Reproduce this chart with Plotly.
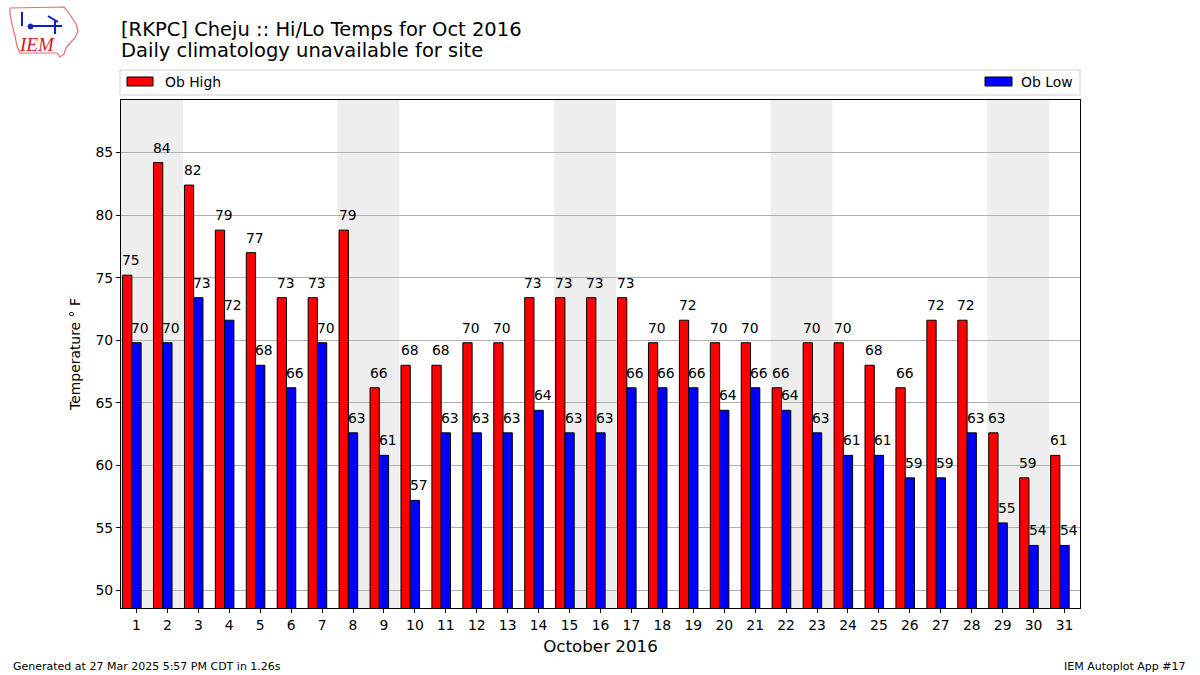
import plotly.graph_objects as go

# ---- data ----
days = list(range(1, 32))
highs = [75.2, 84.2, 82.4, 78.8, 77.0, 73.4, 73.4, 78.8, 66.2, 68.0, 68.0, 69.8, 69.8, 73.4, 73.4,
         73.4, 73.4, 69.8, 71.6, 69.8, 69.8, 66.2, 69.8, 69.8, 68.0, 66.2, 71.6, 71.6, 62.6, 59.0, 60.8]
lows = [69.8, 69.8, 73.4, 71.6, 68.0, 66.2, 69.8, 62.6, 60.8, 57.2, 62.6, 62.6, 62.6, 64.4, 62.6,
        62.6, 66.2, 66.2, 66.2, 64.4, 66.2, 64.4, 62.6, 60.8, 60.8, 59.0, 59.0, 62.6, 55.4, 53.6, 53.6]
weekend_days = [1, 2, 8, 9, 15, 16, 22, 23, 29, 30]
y_ticks = [50, 55, 60, 65, 70, 75, 80, 85]

FONT = "DejaVu Sans"
W, H = 1200, 675
L, R, T, B = 121, 1080, 100, 608


def px(x):
    return (x - L) / (R - L)


def py(y):
    return (B - y) / (B - T)


fig = go.Figure()
fig.add_trace(go.Bar(x=days, y=highs, width=0.3, offset=-0.45, name="Ob High",
                     marker=dict(color="#ff0000", line=dict(color="black", width=1)),
                     hoverinfo="skip"))
fig.add_trace(go.Bar(x=days, y=lows, width=0.3, offset=-0.15, name="Ob Low",
                     marker=dict(color="#0000ff", line=dict(color="black", width=1)),
                     hoverinfo="skip"))

# weekend shading, merged into runs of consecutive days
runs = []
for d in weekend_days:
    if runs and d == runs[-1][1] + 1:
        runs[-1][1] = d
    else:
        runs.append([d, d])
shapes = []
for a, b in runs:
    shapes.append(dict(type="rect", xref="x", yref="paper", x0=a - 0.5, x1=b + 0.5, y0=0, y1=1,
                       fillcolor="#eeeeee", line=dict(width=0), layer="below"))

annotations = []
for d, v in zip(days, highs):
    annotations.append(dict(x=d - 0.3, y=v, xref="x", yref="y", text=f"{round(v)}", showarrow=False,
                            yanchor="bottom", xanchor="center", yshift=5, xshift=4,
                            font=dict(family=FONT, size=13.9, color="black")))
for d, v in zip(days, lows):
    annotations.append(dict(x=d, y=v, xref="x", yref="y", text=f"{round(v)}", showarrow=False,
                            yanchor="bottom", xanchor="center", yshift=5, xshift=4,
                            font=dict(family=FONT, size=13.9, color="black")))

# titles
annotations.append(dict(x=px(119), y=py(29), xref="paper", yref="paper", xanchor="left", yanchor="middle",
                        text="[RKPC] Cheju :: Hi/Lo Temps for Oct 2016", showarrow=False,
                        font=dict(family=FONT, size=19.5, color="black")))
annotations.append(dict(x=px(119), y=py(51), xref="paper", yref="paper", xanchor="left", yanchor="middle",
                        text="Daily climatology unavailable for site", showarrow=False,
                        font=dict(family=FONT, size=19.5, color="black")))
# footer
annotations.append(dict(x=px(11), y=py(666), xref="paper", yref="paper", xanchor="left", yanchor="middle",
                        text="Generated at 27 Mar 2025 5:57 PM CDT in 1.26s", showarrow=False,
                        font=dict(family=FONT, size=11, color="black")))
annotations.append(dict(x=px(1188), y=py(666), xref="paper", yref="paper", xanchor="right", yanchor="middle",
                        text="IEM Autoplot App #17", showarrow=False,
                        font=dict(family=FONT, size=11, color="black")))

# legend box
shapes.append(dict(type="rect", xref="paper", yref="paper", x0=px(120), x1=px(1080), y0=py(95), y1=py(70),
                   line=dict(color="#d0d0d0", width=1), fillcolor="white", layer="above"))
shapes.append(dict(type="rect", xref="paper", yref="paper", x0=px(127), x1=px(153), y0=py(86), y1=py(77),
                   line=dict(color="black", width=1), fillcolor="#ff0000", layer="above"))
shapes.append(dict(type="rect", xref="paper", yref="paper", x0=px(985), x1=px(1012), y0=py(86), y1=py(77),
                   line=dict(color="black", width=1), fillcolor="#0000ff", layer="above"))
annotations.append(dict(x=px(163), y=py(82), xref="paper", yref="paper", xanchor="left", yanchor="middle",
                        text="Ob High", showarrow=False, font=dict(family=FONT, size=13.9, color="black")))
annotations.append(dict(x=px(1075), y=py(82), xref="paper", yref="paper", xanchor="right", yanchor="middle",
                        text="Ob Low", showarrow=False, font=dict(family=FONT, size=13.9, color="black")))

# logo approximation
outline = [(10, 8), (64, 7), (68, 12), (72, 18), (76, 24), (78, 31), (75, 38), (70, 43), (66, 48),
           (64, 54), (60, 57), (57, 53), (20, 53), (17, 46), (15, 36), (12, 24), (10, 14)]
path = "M " + " L ".join(f"{px(a):.5f},{py(b):.5f}" for a, b in outline) + " Z"
shapes.append(dict(type="path", xref="paper", yref="paper", path=path,
                   line=dict(color="#e07070", width=1.2), fillcolor="white", layer="above"))
for (x0, y0, x1, y1) in [(30, 26, 62, 26), (55, 20, 55, 34), (22, 12, 22, 26), (48, 16, 58, 22)]:
    shapes.append(dict(type="line", xref="paper", yref="paper", x0=px(x0), y0=py(y0), x1=px(x1), y1=py(y1),
                       line=dict(color="#1020c0", width=2), layer="above"))
shapes.append(dict(type="circle", xref="paper", yref="paper", x0=px(28), x1=px(33), y0=py(29), y1=py(24),
                   line=dict(color="#1020c0", width=1), fillcolor="#1020c0", layer="above"))
annotations.append(dict(x=px(37), y=py(45), xref="paper", yref="paper", xanchor="center", yanchor="middle",
                        text="<i>IEM</i>", showarrow=False,
                        font=dict(family="Liberation Serif", size=19, color="#d02020")))

fig.update_layout(
    width=W, height=H,
    margin=dict(l=L, r=W - R, t=T, b=H - B),
    paper_bgcolor="white", plot_bgcolor="white",
    barmode="overlay", showlegend=False,
    font=dict(family=FONT, size=13.9, color="black"),
    shapes=shapes, annotations=annotations,
    xaxis=dict(range=[0.5, 31.5], tickmode="array", tickvals=days, ticktext=[str(d) for d in days],
               ticks="outside", ticklen=4, tickcolor="black", showline=True, linecolor="black", linewidth=1,
               mirror=True, showgrid=False, zeroline=False,
               tickfont=dict(family=FONT, size=13.9),
               title=dict(text="October 2016", font=dict(family=FONT, size=16.7), standoff=8)),
    yaxis=dict(range=[min(lows) - 5, max(highs) + 5], tickmode="array", tickvals=y_ticks,
               ticks="outside", ticklen=4, tickcolor="black", showline=True, linecolor="black", linewidth=1,
               mirror=True, showgrid=True, gridcolor="#b0b0b0", gridwidth=1, zeroline=False,
               tickfont=dict(family=FONT, size=13.9),
               title=dict(text="Temperature ° F", font=dict(family=FONT, size=13.9), standoff=11)),
)

fig.write_html("out.html", config={"displayModeBar": False},
               post_script="document.body.style.margin='0';document.body.style.overflow='hidden';")
